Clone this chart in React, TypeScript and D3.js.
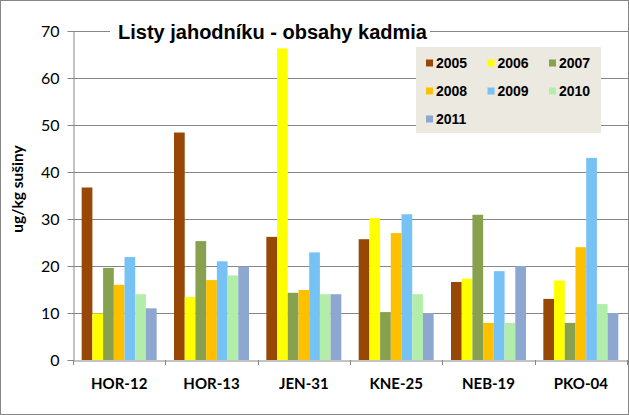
import React, { useEffect, useRef } from 'react';
import * as d3 from 'd3';

const categories = ['HOR-12', 'HOR-13', 'JEN-31', 'KNE-25', 'NEB-19', 'PKO-04'];
const years = ['2005', '2006', '2007', '2008', '2009', '2010', '2011'];
const colors = ['#974706', '#FFFF00', '#87A14F', '#FFC000', '#77C2F4', '#B3EDAA', '#8EA7D0'];

// one array per year, in category order
const v2005 = [36.7, 48.4, 26.2, 25.7, 16.6, 13.0];
const v2006 = [9.9, 13.4, 66.3, 30.2, 17.3, 16.9];
const v2007 = [19.6, 25.3, 14.3, 10.2, 30.9, 7.9];
const v2008 = [16.0, 17.0, 14.9, 27.0, 7.9, 24.0];
const v2009 = [21.9, 21.0, 22.9, 31.0, 18.9, 43.0];
const v2010 = [14.0, 18.0, 14.0, 14.0, 7.9, 11.9];
const v2011 = [11.0, 19.9, 14.0, 10.0, 20.0, 10.0];
const series = [v2005, v2006, v2007, v2008, v2009, v2010, v2011];

const yTicks = [0, 10, 20, 30, 40, 50, 60, 70];

const W = 629;
const H = 415;
const margin = { top: 31, right: 2, bottom: 55, left: 73 };

const App: React.FC = () => {
  const svgRef = useRef<SVGSVGElement>(null);

  useEffect(() => {
    if (!svgRef.current) return;
    const svg = d3.select(svgRef.current);
    svg.selectAll('*').remove();

    const grey = '#868686';

    svg.append('rect')
      .attr('x', 0.5).attr('y', 0.5)
      .attr('width', W - 1).attr('height', H - 1)
      .attr('fill', '#fff').attr('stroke', grey);

    const x0 = d3.scaleBand()
      .domain(categories)
      .range([margin.left, W - margin.right]);

    const bw = x0.bandwidth();
    const x1 = d3.scaleBand()
      .domain(years)
      .range([bw * 0.094, bw * 0.906]);

    const y = d3.scaleLinear()
      .domain([0, 70])
      .range([H - margin.bottom, margin.top]);

    // gridlines
    svg.append('g')
      .selectAll('line')
      .data(yTicks.slice(1))
      .join('line')
      .attr('x1', margin.left).attr('x2', W - 1)
      .attr('y1', d => Math.round(y(d)) + 0.5)
      .attr('y2', d => Math.round(y(d)) + 0.5)
      .attr('stroke', grey);

    // bars
    const groups = svg.append('g')
      .selectAll('g')
      .data(categories)
      .join('g')
      .attr('transform', c => `translate(${x0(c)},0)`);

    groups.selectAll('rect')
      .data((c, ci) => years.map((yr, si) => ({ yr, si, v: series[si][ci] })))
      .join('rect')
      .attr('x', d => x1(d.yr)!)
      .attr('width', x1.bandwidth())
      .attr('y', d => y(d.v))
      .attr('height', d => y(0) - y(d.v))
      .attr('fill', d => colors[d.si]);

    // y axis
    const yAxis = svg.append('g')
      .attr('transform', `translate(${margin.left + 0.5},0)`)
      .call(d3.axisLeft(y).tickValues(yTicks).tickSize(6).tickSizeOuter(0).tickPadding(8));
    yAxis.select('.domain').attr('stroke', grey);
    yAxis.selectAll('.tick line').attr('stroke', grey);
    yAxis.selectAll('.tick text')
      .attr('fill', '#000')
      .style('font-family', 'Lato, "Open Sans", sans-serif')
      .style('font-size', '16px');

    // x axis
    const xAxis = svg.append('g')
      .attr('transform', `translate(0,${Math.round(y(0)) + 0.5})`)
      .call(d3.axisBottom(x0).tickSize(0).tickPadding(18));
    xAxis.select('.domain').attr('stroke', grey);
    xAxis.selectAll('.tick text')
      .attr('fill', '#000')
      .style('font-family', 'Lato, "Open Sans", sans-serif')
      .style('font-weight', 'bold')
      .style('font-size', '15px');
    svg.append('g')
      .selectAll('line')
      .data(categories.concat(['end']))
      .join('line')
      .attr('x1', (c, i) => Math.round(margin.left + i * bw) + 0.5)
      .attr('x2', (c, i) => Math.round(margin.left + i * bw) + 0.5)
      .attr('y1', y(0)).attr('y2', y(0) + 5)
      .attr('stroke', grey);

    // y axis title
    svg.append('text')
      .attr('transform', `translate(23,189) rotate(-90)`)
      .attr('text-anchor', 'middle')
      .style('font-family', 'Lato, "Open Sans", sans-serif')
      .style('font-weight', 'bold')
      .style('font-size', '15.5px')
      .text('ug/kg sušiny');

    // chart title with white backing
    svg.append('rect')
      .attr('x', 110).attr('y', 18)
      .attr('width', 320).attr('height', 28)
      .attr('fill', '#fff');
    svg.append('text')
      .attr('x', 118).attr('y', 39)
      .style('font-family', '"Liberation Sans", Arial, sans-serif')
      .style('font-weight', 'bold')
      .style('font-size', '20px')
      .text('Listy jahodníku - obsahy kadmia');

    // legend
    const lg = svg.append('g');
    lg.append('rect')
      .attr('x', 416).attr('y', 47)
      .attr('width', 185).attr('height', 86)
      .attr('fill', '#ECE9E0');
    const item = lg.selectAll('g')
      .data(years)
      .join('g')
      .attr('transform', (d, i) => `translate(${426 + (i % 3) * 61.5},${63 + Math.floor(i / 3) * 28})`);
    item.append('rect')
      .attr('x', 0).attr('y', -3.5)
      .attr('width', 7).attr('height', 7)
      .attr('fill', (d, i) => colors[i]);
    item.append('text')
      .attr('x', 10).attr('y', 5)
      .style('font-family', '"Liberation Sans", Arial, sans-serif')
      .style('font-weight', 'bold')
      .style('font-size', '14px')
      .text(d => d);
  }, []);

  return (
    <div style={{ position: 'absolute', left: 0, top: 0 }}>
      <svg ref={svgRef} width={W} height={H} style={{ display: 'block' }}></svg>
    </div>
  );
};

export default App;
